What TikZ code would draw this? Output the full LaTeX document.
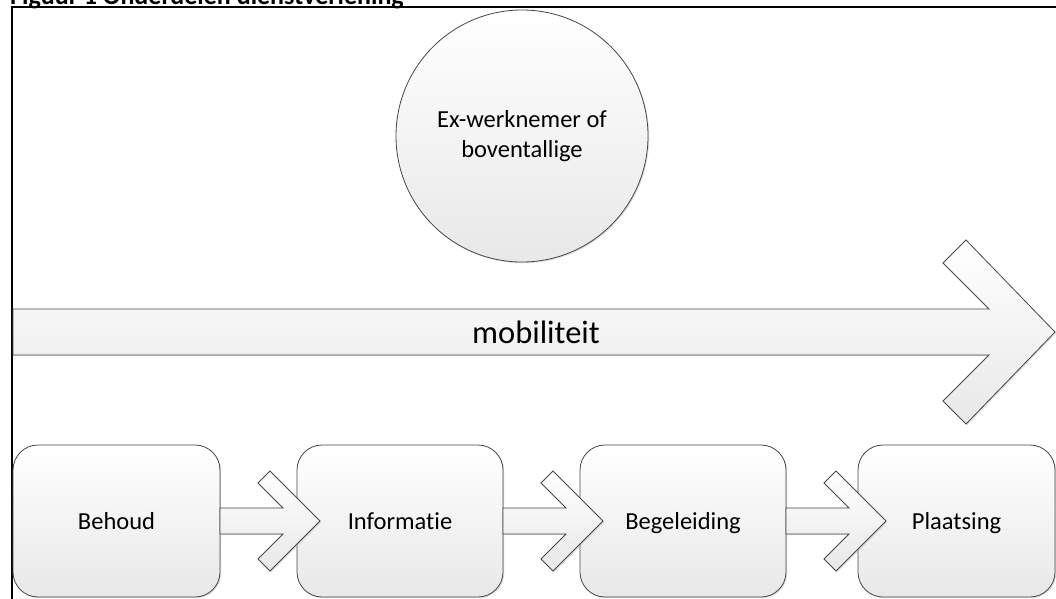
\documentclass[tikz,border=0pt]{standalone}
\usepackage{fontspec}
\setmainfont{Carlito}[RawFeature={-liga;-clig;-dlig;-calt}]
\usetikzlibrary{calc,shadows}
\tikzset{
  blk/.style={draw=black!72, line width=0.8pt, top color=white, bottom color=black!9,
    drop shadow={shadow xshift=1.2pt, shadow yshift=-1.2pt, fill=black!30, opacity=0.45}},
  stepbox/.style={blk, rounded corners=25pt, minimum width=206pt, minimum height=152pt,
    inner sep=0pt, outer sep=0pt, text height=16pt, text depth=0pt,
    font=\fontsize{24.5}{30}\selectfont},
  roundbox/.style={blk, circle, minimum size=252pt, inner sep=0pt, align=center,
    font=\fontsize{24.5}{29.5}\selectfont},
}
\newcommand{\blockarrow}[1]{%
  \path[blk] ($(#1)+(0,-13)$) -- ++(63,0) -- ++(-25,-25) -- ++(12,-12) -- ($(#1)+(100,0)$)
    -- ($(#1)+(50,50)$) -- ++(-12,-12) -- ++(25,-25) -- ($(#1)+(0,13)$) -- cycle;}
\begin{document}
\begin{tikzpicture}[x=1pt,y=-1pt]
\useasboundingbox (0,0) rectangle (1056,598);
\clip (0,0) rectangle (1056,598);
\fill[white] (0,0) rectangle (1056,598);
% title (cut off at top)
\node[anchor=base west, inner sep=0pt, font=\fontsize{26}{30}\selectfont\bfseries] (title) at (10,4.5) {Figuur 1 Onderdelen dienstverlening};
% frame
\draw[line width=1.8pt] (1070,7) -| (11.6,610);
% circle
\node[roundbox] (ex) at (522,136) {Ex-werknemer of\\boventallige};
% big arrow
\path[blk] (13,309) -- (989,309) -- (943,263) -- (966,240) -- (1055,332) -- (966,424) -- (943,401) -- (989,355) -- (13,355) -- cycle;
\node[font=\fontsize{32.5}{36}\selectfont] (mob) at (536,332) {mobiliteit};
% steps
\node[stepbox, minimum width=207pt] (behoud) at (116.5,521) {Behoud};
\node[stepbox] (info) at (400,521) {Informatie};
\node[stepbox] (begel) at (683,521) {Begeleiding};
\node[stepbox, minimum width=197pt] (plaats) at (956.5,521) {Plaatsing};
\blockarrow{behoud.east}
\blockarrow{info.east}
\blockarrow{begel.east}
\end{tikzpicture}
\end{document}
